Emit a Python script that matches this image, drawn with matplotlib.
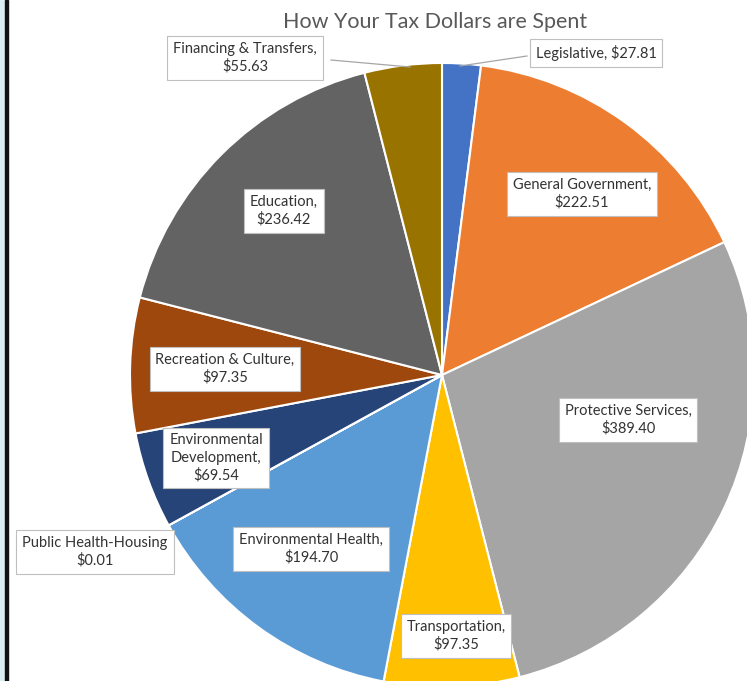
import matplotlib.pyplot as plt
from matplotlib.patches import Rectangle

# spending by category, clockwise from 12 o'clock
categories = ['Legislative', 'General Government', 'Protective Services',
              'Transportation', 'Environmental Health', 'Public Health-Housing',
              'Environmental Development', 'Recreation & Culture', 'Education',
              'Financing & Transfers']
amounts = [27.81, 222.51, 389.40, 97.35, 194.70, 0.01, 69.54, 97.35, 236.42, 55.63]
label_texts = ['Legislative, $27.81',
               'General Government,\n$222.51',
               'Protective Services,\n$389.40',
               'Transportation,\n$97.35',
               'Environmental Health,\n$194.70',
               'Public Health-Housing\n$0.01',
               'Environmental\nDevelopment,\n$69.54',
               'Recreation & Culture,\n$97.35',
               'Education,\n$236.42',
               'Financing & Transfers,\n$55.63']
colors = ['#4472C4', '#ED7D31', '#A5A5A5', '#FFC000', '#5B9BD5', '#70AD47',
          '#264478', '#9E480E', '#636363', '#997300']

W, H = 747, 681
# label centres in pixel coords (x, y from top)
label_pos = [(596, 53), (582, 194), (628, 420), (456, 636), (311, 549),
             (95, 552), (216, 458), (225, 369), (284, 211), (245, 58)]
# leader lines for the two outside labels: (start, end) in pixels
leaders = {0: ((527, 56), (460, 66)), 9: ((331, 60), (410, 67))}

fig = plt.figure(figsize=(W / 100, H / 100), dpi=100)
ax = fig.add_axes([0, 0, 1, 1])

ax.pie(amounts, colors=colors, startangle=90, counterclock=False,
       center=(442, H - 375), radius=312,
       wedgeprops=dict(edgecolor='white', linewidth=1.5))
ax.set_xlim(0, W)
ax.set_ylim(0, H)
ax.set_aspect('equal')
ax.axis('off')

for i, (txt, (px, py)) in enumerate(zip(label_texts, label_pos)):
    if i in leaders:
        (x0, y0), (x1, y1) = leaders[i]
        ax.plot([x0, x1], [H - y0, H - y1], color='#a6a6a6', lw=0.9, zorder=3)
    ax.text(px, H - py, txt, ha='center', va='center', fontsize=10.5,
            family='Lato', color='#333333', linespacing=1.3, zorder=4,
            bbox=dict(boxstyle='square,pad=0.4', fc='white', ec='#bfbfbf', lw=0.8))

ax.text(435, H - 22, 'How Your Tax Dollars are Spent', ha='center', va='center',
        fontsize=15.5, family='Lato', color='#595959')

# left frame edge of the original screenshot
fig.patches.append(Rectangle((0, 0), 5 / W, 1, transform=fig.transFigure,
                             color='#daedf2', zorder=0))
fig.patches.append(Rectangle((5 / W, 0), 3 / W, 1, transform=fig.transFigure,
                             color='#111111', zorder=0))

fig.savefig('out.png', dpi=100)
